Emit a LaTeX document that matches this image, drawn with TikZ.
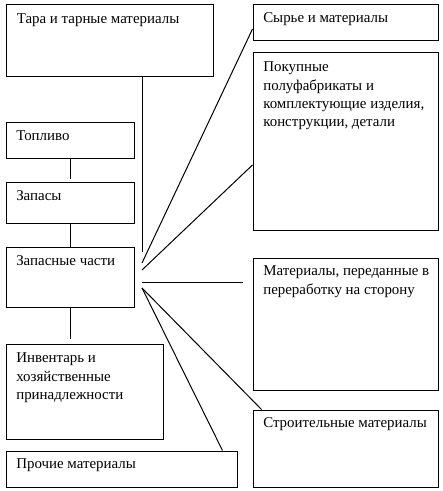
\documentclass[tikz,border=0pt]{standalone}
\usepackage{fontspec}
\setmainfont{Liberation Serif}
\usetikzlibrary{fit}
\begin{document}
\begin{tikzpicture}[x=0.75pt,y=-0.75pt,
  box/.style={draw, line width=0.75pt, inner sep=0pt},
  txt/.style={anchor=north west, inner sep=0pt, align=left, font=\fontsize{11.2}{13.8}\selectfont},
  conn/.style={draw, line width=0.75pt}]
\useasboundingbox (0,0) rectangle (442,491);
% left boxes
\node[box, fit={(6,5)(213,77)}] (tara) {};
\node[box, fit={(6,123)(134,159)}] (toplivo) {};
\node[box, fit={(6,183)(134,223)}] (zapasy) {};
\node[box, fit={(6,247)(134,307)}] (zapch) {};
\node[box, fit={(6,344)(163,439)}] (invent) {};
\node[box, fit={(6,451)(237,487)}] (prochie) {};
% right boxes
\node[box, fit={(253,5)(438,41)}] (syrye) {};
\node[box, fit={(253,53)(438,230)}] (pokup) {};
\node[box, fit={(253,258)(438,390)}] (pererab) {};
\node[box, fit={(253,410)(438,487)}] (stroit) {};
% texts
\node[txt] (taraT) at ([shift={(11,5.5)}]tara.north west) {\strut Тара и тарные материалы};
\node[txt] (toplivoT) at ([shift={(10.5,5)}]toplivo.north west) {\strut Топливо};
\node[txt] (zapasyT) at ([shift={(10.5,5)}]zapasy.north west) {\strut Запасы};
\node[txt] (zapchT) at ([shift={(10.5,6)}]zapch.north west) {\strut Запасные части};
\node[txt] (inventT) at ([shift={(10.5,6)}]invent.north west) {\strut Инвентарь и\\хозяйственные\\принадлежности};
\node[txt] (prochieT) at ([shift={(10.5,5)}]prochie.north west) {\strut Прочие материалы};
\node[txt] (syryeT) at ([shift={(10.5,4.5)}]syrye.north west) {\strut Сырье и материалы};
\node[txt] (pokupT) at ([shift={(10.5,6)}]pokup.north west) {\strut Покупные\\полуфабрикаты и\\комплектующие изделия,\\конструкции, детали};
\node[txt] (pererabT) at ([shift={(10.5,5)}]pererab.north west) {\strut Материалы, переданные в\\переработку на сторону};
\node[txt] (stroitT) at ([shift={(10.5,5)}]stroit.north west) {\strut Строительные материалы};
% hub coordinates
\coordinate (hubA) at (142,252);
\coordinate (hubB) at (142,263);
\coordinate (hubB2) at (142,270);
\coordinate (hubC) at (142,282);
\coordinate (hend) at (243,282);
\coordinate (hubD) at (142,288);
% connectors
\draw[conn] (tara.south -| hubA) -- (hubA);
\draw[conn] (toplivo.south) -- ([yshift=2.25pt]zapasy.north);
\draw[conn] (zapasy.south) -- (zapch.north);
\draw[conn] (zapch.south) -- ([yshift=3.75pt]invent.north -| zapch.south);
\draw[conn] ([yshift=-4.5pt]syrye.west) -- (hubB);
\draw[conn] ([yshift=-17.6pt]pokup.west) -- (hubB2);
\draw[conn] (hubC) -- (hend);
\draw[conn] (hubD) -- ([xshift=-11.25pt]prochie.north east);
\draw[conn] (hubD) -- ([xshift=6.75pt]stroit.north west);
\end{tikzpicture}
\end{document}
